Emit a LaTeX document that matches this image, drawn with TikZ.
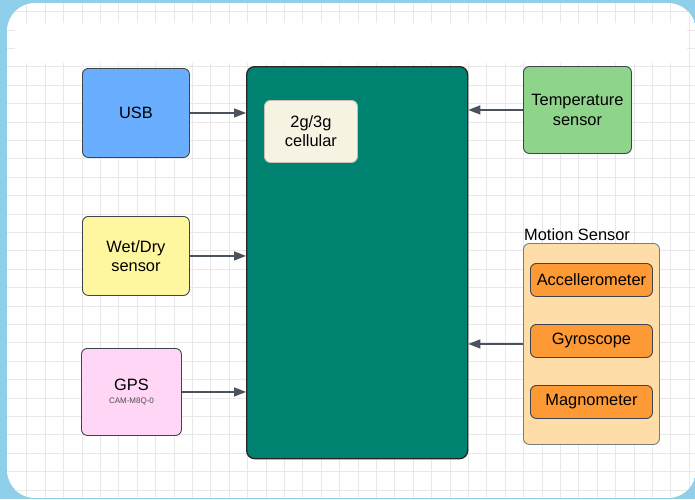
\documentclass[tikz,border=0pt]{standalone}
\usepackage{fontspec}
\setmainfont{Liberation Sans}
\usetikzlibrary{arrows.meta}
\definecolor{bgblue}{HTML}{8ECFEA}
\definecolor{gridc}{HTML}{E8E8E8}
\definecolor{edgec}{HTML}{3D444D}
\definecolor{arrc}{HTML}{4A525C}
\definecolor{usbc}{HTML}{6AAEFF}
\definecolor{mainc}{HTML}{008270}
\definecolor{creamc}{HTML}{F6F3E2}
\definecolor{yellowc}{HTML}{FFF6A0}
\definecolor{pinkc}{HTML}{FFD6F6}
\definecolor{greenc}{HTML}{8FD48B}
\definecolor{motionc}{HTML}{FFDDA8}
\definecolor{orangec}{HTML}{FD9A36}
\tikzset{
  blk/.style={draw=edgec, line width=0.9pt, rounded corners=6pt, anchor=north west,
    align=center, font=\fontsize{16.4}{19.3}\selectfont, inner sep=0pt},
  sub/.style={draw=edgec, line width=0.9pt, rounded corners=6pt, anchor=north west,
    align=center, font=\fontsize{16.4}{19.3}\selectfont, inner sep=0pt, fill=orangec,
    minimum width=122, minimum height=33},
  conn/.style={draw=arrc, line width=1.3pt, -{Triangle[length=12pt,width=9pt]}}
}
\begin{document}
\begin{tikzpicture}[x=1pt,y=-1pt]
\useasboundingbox (0,0) rectangle (695,499);
\fill[bgblue] (0,0) rectangle (695,499);
\begin{scope}
  \clip[rounded corners=28pt] (7,3) rectangle (696,498);
  \fill[white] (7,3) rectangle (696,498);
  \foreach \i in {0,...,37} \draw[gridc, line width=0.7pt] ({26.7+\i*18.4},0) -- ++(0,499);
  \foreach \j in {0,...,27} \draw[gridc, line width=0.7pt] (0,{-6.9+\j*18.4}) -- ++(695,0);
  \fill[white] (15,23) rectangle (687,63);
\end{scope}

\node[blk, fill=mainc, draw=black!85, line width=1.3pt, rounded corners=8pt,
  minimum width=221, minimum height=392] (main) at (246,66) {};
\node[blk, fill=creamc, draw=creamc!80!black, minimum width=93, minimum height=62] (cell) at (264,100) {2g/3g\\cellular};

\node[blk, fill=usbc, minimum width=107, minimum height=89] (usb) at (82,68) {USB};
\node[blk, fill=yellowc, minimum width=107, minimum height=79] (wet) at (82,216) {Wet/Dry\\sensor};
\node[blk, fill=pinkc, minimum width=100, minimum height=87] (gps) at (81,348)
  {GPS\\[-7pt]{\fontsize{8}{9}\selectfont\color{black!70}CAM-M8Q-0}};
\node[blk, fill=greenc, minimum width=108, minimum height=87] (temp) at (523,66) {Temperature\\sensor};

\node[blk, fill=motionc, draw=edgec!70, minimum width=136, minimum height=201] (motion) at (523,243) {};
\node[anchor=base west, inner sep=0pt, font=\fontsize{16.4}{19.3}\selectfont] (mlabel) at (524,240.5) {Motion Sensor};
\node[sub] (acc) at (530,263) {\raisebox{-1pt}{Accellerometer}};
\node[sub] (gyro) at (530,324) {\raisebox{-1pt}{Gyroscope}};
\node[sub] (mag) at (530,385) {\raisebox{-1pt}{Magnometer}};

\draw[conn] (usb.east) -- (usb.east -| main.west);
\draw[conn] (wet.east) -- (wet.east -| main.west);
\draw[conn] (gps.east) -- (gps.east -| main.west);
\draw[conn] (temp.west) -- (temp.west -| main.east);
\draw[conn] (motion.west) -- (motion.west -| main.east);
\end{tikzpicture}
\end{document}
